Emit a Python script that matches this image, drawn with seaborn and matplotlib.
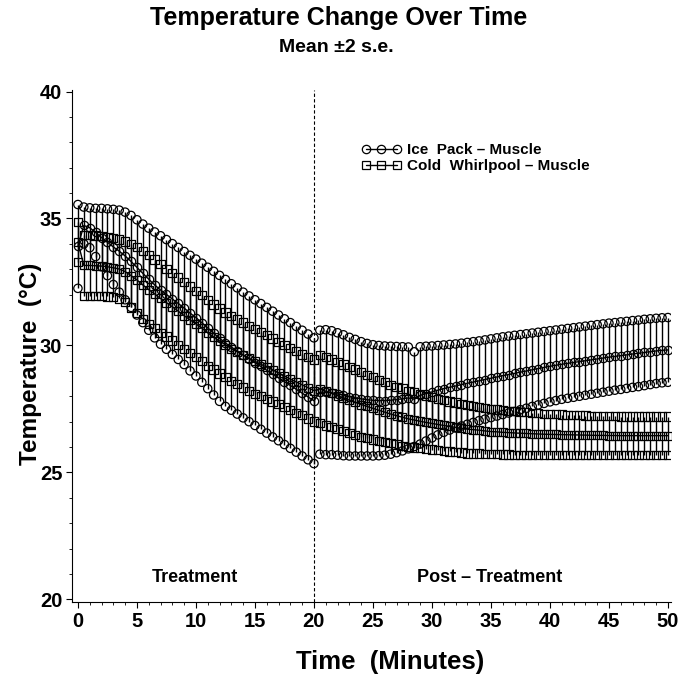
import matplotlib
matplotlib.use('Agg')
import matplotlib.pyplot as plt
from matplotlib.ticker import MultipleLocator
import numpy as np
import pandas as pd
import seaborn as sns

# readings every half minute, 0 .. 50 min (101 values each)
minutes = np.arange(0, 50.5, 0.5)

ice_hi = [35.55, 35.45, 35.42, 35.40, 35.40, 35.38, 35.36, 35.33, 35.25, 35.12,
          34.95, 34.78, 34.62, 34.47, 34.32, 34.17, 34.01, 33.86, 33.70, 33.55,
          33.40, 33.24, 33.08, 32.92, 32.76, 32.60, 32.43, 32.27, 32.10, 31.95,
          31.80, 31.65, 31.50, 31.35, 31.20, 31.05, 30.90, 30.75, 30.60, 30.45,
          30.30, 30.60, 30.62, 30.58, 30.50, 30.42, 30.32, 30.24, 30.15, 30.08,
          30.03, 30.00, 29.98, 29.97, 29.96, 29.95, 29.94, 29.75, 29.95, 29.97,
          29.98, 30.00, 30.02, 30.04, 30.06, 30.09, 30.12, 30.15, 30.18, 30.22,
          30.26, 30.30, 30.34, 30.37, 30.40, 30.43, 30.46, 30.49, 30.52, 30.55,
          30.58, 30.61, 30.64, 30.67, 30.70, 30.73, 30.76, 30.79, 30.82, 30.85,
          30.88, 30.90, 30.93, 30.95, 30.98, 31.00, 31.03, 31.05, 31.07, 31.09,
          31.10]
ice_lo = [32.25, 34.00, 33.85, 33.50, 33.10, 32.75, 32.40, 32.10, 31.80, 31.50,
          31.20, 30.90, 30.60, 30.30, 30.05, 29.85, 29.65, 29.45, 29.25, 29.00,
          28.80, 28.55, 28.30, 28.05, 27.80, 27.60, 27.45, 27.30, 27.15, 27.00,
          26.85, 26.70, 26.55, 26.40, 26.25, 26.10, 25.95, 25.80, 25.65, 25.50,
          25.35, 25.72, 25.70, 25.70, 25.68, 25.66, 25.65, 25.65, 25.65, 25.65,
          25.65, 25.66, 25.68, 25.72, 25.78, 25.85, 25.93, 26.02, 26.12, 26.24,
          26.36, 26.48, 26.58, 26.67, 26.75, 26.83, 26.90, 26.97, 27.04, 27.10,
          27.16, 27.22, 27.28, 27.34, 27.40, 27.47, 27.53, 27.60, 27.66, 27.72,
          27.78, 27.83, 27.88, 27.92, 27.96, 28.00, 28.04, 28.08, 28.12, 28.16,
          28.20, 28.24, 28.27, 28.31, 28.35, 28.38, 28.42, 28.46, 28.50, 28.53,
          28.55]
whirl_hi = [34.85, 34.35, 34.35, 34.33, 34.30, 34.27, 34.22, 34.17, 34.10, 34.00,
            33.88, 33.72, 33.55, 33.38, 33.20, 33.02, 32.85, 32.68, 32.50, 32.32,
            32.15, 31.98, 31.80, 31.62, 31.45, 31.30, 31.15, 31.02, 30.90, 30.78,
            30.65, 30.52, 30.40, 30.28, 30.15, 30.02, 29.90, 29.78, 29.65, 29.55,
            29.45, 29.62, 29.55, 29.45, 29.35, 29.25, 29.15, 29.05, 28.95, 28.85,
            28.75, 28.65, 28.55, 28.45, 28.37, 28.30, 28.22, 28.15, 28.08, 28.02,
            27.96, 27.90, 27.85, 27.80, 27.75, 27.70, 27.66, 27.62, 27.58, 27.54,
            27.50, 27.48, 27.45, 27.43, 27.41, 27.39, 27.37, 27.35, 27.33, 27.31,
            27.30, 27.29, 27.28, 27.27, 27.26, 27.25, 27.24, 27.23, 27.22, 27.22,
            27.21, 27.21, 27.20, 27.20, 27.20, 27.20, 27.20, 27.20, 27.20, 27.20,
            27.20]
whirl_lo = [33.30, 31.95, 31.95, 31.95, 31.95, 31.93, 31.90, 31.85, 31.72, 31.50,
            31.28, 31.05, 30.85, 30.68, 30.50, 30.35, 30.20, 30.02, 29.85, 29.70,
            29.55, 29.38, 29.20, 29.05, 28.90, 28.75, 28.60, 28.48, 28.35, 28.22,
            28.10, 28.00, 27.90, 27.80, 27.70, 27.58, 27.45, 27.35, 27.25, 27.12,
            27.00, 26.95, 26.85, 26.78, 26.70, 26.62, 26.55, 26.48, 26.40, 26.35,
            26.30, 26.25, 26.20, 26.15, 26.10, 26.05, 26.00, 25.98, 25.95, 25.92,
            25.90, 25.88, 25.85, 25.83, 25.80, 25.78, 25.75, 25.75, 25.75, 25.73,
            25.72, 25.72, 25.71, 25.71, 25.70, 25.70, 25.70, 25.70, 25.70, 25.70,
            25.70, 25.70, 25.70, 25.70, 25.70, 25.70, 25.70, 25.70, 25.70, 25.70,
            25.70, 25.70, 25.70, 25.70, 25.70, 25.70, 25.70, 25.70, 25.70, 25.70,
            25.70]

groups = [('Ice  Pack – Muscle', 'o', ice_lo, ice_hi),
          ('Cold  Whirlpool – Muscle', 's', whirl_lo, whirl_hi)]

frames = []
for name, marker, lo, hi in groups:
    d = pd.DataFrame({'time': minutes, 'lo': lo, 'hi': hi})
    d['mean'] = (d['lo'] + d['hi']) / 2
    d['group'] = name
    frames.append(d)
df = pd.concat(frames, ignore_index=True)

sns.set_style('ticks')
plt.rcParams['font.family'] = ['Liberation Sans', 'DejaVu Sans']
plt.rcParams['font.weight'] = 'bold'
for key in ['text.color', 'axes.labelcolor', 'xtick.color', 'ytick.color', 'axes.edgecolor']:
    plt.rcParams[key] = 'black'

fig = plt.figure(figsize=(6.82, 6.76), dpi=100)
ax = fig.add_axes([0.1056, 0.1095, 0.879, 0.757])

for name, marker, lo, hi in groups:
    d = df[df['group'] == name]
    ax.vlines(d['time'], d['lo'], d['hi'], color='black', lw=1.0, zorder=2)
    sns.lineplot(data=d, x='time', y='mean', ax=ax, color='black', lw=1.0,
                 marker=marker, markersize=6, markerfacecolor='none',
                 markeredgecolor='black', markeredgewidth=0.9, label=name, zorder=3)
    for col in ['lo', 'hi']:
        sns.scatterplot(x=d['time'], y=d[col], ax=ax, marker=marker, s=36,
                        facecolor='none', edgecolor='black', linewidth=0.9,
                        zorder=3, legend=False)

ax.axvline(20, color='black', lw=0.8, ls=(0, (3, 2)), zorder=1)

ax.set_xlim(-0.5, 50.3)
ax.set_ylim(19.9, 40.05)
ax.xaxis.set_major_locator(MultipleLocator(5))
ax.xaxis.set_minor_locator(MultipleLocator(1))
ax.yaxis.set_major_locator(MultipleLocator(5))
ax.yaxis.set_minor_locator(MultipleLocator(1))
ax.tick_params(which='major', direction='out', length=4, width=0.8,
               labelsize=14.5, pad=3)
ax.tick_params(which='minor', direction='out', length=2.2, width=0.6)
sns.despine(ax=ax)
for sp in ['left', 'bottom']:
    ax.spines[sp].set_linewidth(0.8)

ax.set_xlabel('')
ax.set_ylabel('')
ax.text(9.9, 20.87, 'Treatment', ha='center', va='center', fontsize=13)
ax.text(34.9, 20.87, 'Post – Treatment', ha='center', va='center', fontsize=13)

handles, labels = ax.get_legend_handles_labels()
ax.legend(handles, labels, loc='upper left', bbox_to_anchor=(0.47, 0.912),
          frameon=False, numpoints=3, handlelength=2.6, handletextpad=0.4,
          labelspacing=0.15, fontsize=11, borderpad=0)

fig.text(0.496, 0.973, 'Temperature Change Over Time', ha='center', va='center',
         fontsize=18)
fig.text(0.493, 0.929, 'Mean ±2 s.e.', ha='center', va='center', fontsize=14)
fig.text(0.572, 0.021, 'Time  (Minutes)', ha='center', va='center', fontsize=18.5)
fig.text(0.044, 0.4615, 'Temperature  (°C)', ha='center', va='center',
         fontsize=17.5, rotation=90)

fig.savefig('out.png', dpi=100)
